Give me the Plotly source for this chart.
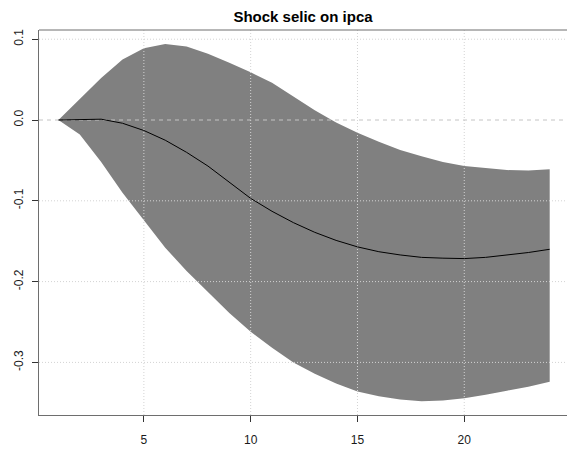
import plotly.graph_objects as go

# Impulse response of ipca to a selic shock, with its confidence band
horizon = list(range(1, 25))
response = [0.0, 0.0005, 0.001, -0.004, -0.013, -0.025, -0.040, -0.057,
            -0.077, -0.097, -0.113, -0.127, -0.139, -0.149, -0.157, -0.163,
            -0.167, -0.170, -0.171, -0.1715, -0.170, -0.167, -0.164, -0.160]
upper = [0.0, 0.026, 0.052, 0.075, 0.0887, 0.094, 0.091, 0.082,
         0.071, 0.059, 0.046, 0.029, 0.012, -0.003, -0.0157, -0.027,
         -0.037, -0.045, -0.052, -0.057, -0.0595, -0.062, -0.0625, -0.061]
lower = [0.0, -0.018, -0.052, -0.090, -0.124, -0.158, -0.187, -0.213,
         -0.239, -0.262, -0.282, -0.300, -0.314, -0.326, -0.336, -0.342,
         -0.346, -0.348, -0.347, -0.3445, -0.340, -0.335, -0.330, -0.324]

x_ticks = [5, 10, 15, 20]
y_ticks = [-0.3, -0.2, -0.1, 0.0, 0.1]
y_tick_labels = ["-0.3", "-0.2", "-0.1", "0.0", "0.1"]

x_range = [0.09, 24.81]
y_range = [-0.3651, 0.1114]

fig = go.Figure()

# shaded band
fig.add_trace(go.Scatter(
    x=horizon + horizon[::-1], y=upper + lower[::-1],
    fill="toself", fillcolor="#808080", mode="none",
    hoverinfo="skip", showlegend=False))

# dotted grid drawn over the band
for xv in x_ticks:
    fig.add_trace(go.Scatter(
        x=[xv, xv], y=y_range, mode="lines",
        line=dict(color="#d3d3d3", width=1, dash="1px,2px"),
        hoverinfo="skip", showlegend=False))
for yv in y_ticks:
    if yv == 0:
        continue
    fig.add_trace(go.Scatter(
        x=x_range, y=[yv, yv], mode="lines",
        line=dict(color="#d3d3d3", width=1, dash="1px,2px"),
        hoverinfo="skip", showlegend=False))

# dashed zero reference
fig.add_trace(go.Scatter(
    x=x_range, y=[0, 0], mode="lines",
    line=dict(color="#c4c4c4", width=1, dash="4px,4px"),
    hoverinfo="skip", showlegend=False))

# point response
fig.add_trace(go.Scatter(
    x=horizon, y=response, mode="lines",
    line=dict(color="black", width=1),
    showlegend=False))

axis_font = dict(family="Liberation Sans, Arial, sans-serif", size=12, color="#1a1a1a")

fig.update_layout(
    width=567, height=450,
    margin=dict(l=39, r=0, t=30, b=35),
    paper_bgcolor="white", plot_bgcolor="white",
    title=dict(text="<b>Shock selic on ipca</b>", x=(39 + 567) / 2 / 567, xanchor="center",
               xref="container", yref="container", y=1 - 16.5 / 450, yanchor="middle",
               font=dict(family="Liberation Sans, Arial, sans-serif", size=15, color="black")),
    xaxis=dict(range=x_range, tickvals=x_ticks, showgrid=False, zeroline=False,
               showline=True, linecolor="#6e6e6e", linewidth=1,
               ticks="outside", ticklen=6, tickcolor="#333", tickwidth=1,
               ticklabelstandoff=8, tickfont=axis_font),
    yaxis=dict(range=y_range, tickvals=y_ticks, ticktext=y_tick_labels, showgrid=False,
               zeroline=False, showline=True, linecolor="#6e6e6e", linewidth=1,
               ticks="outside", ticklen=6, tickcolor="#333", tickwidth=1,
               tickangle=-90, ticklabelstandoff=4, tickfont=axis_font),
    shapes=[dict(type="line", xref="paper", yref="paper", x0=0, x1=1, y0=1, y1=1,
                 line=dict(color="#6e6e6e", width=1))],
)

fig.write_html("out.html")
